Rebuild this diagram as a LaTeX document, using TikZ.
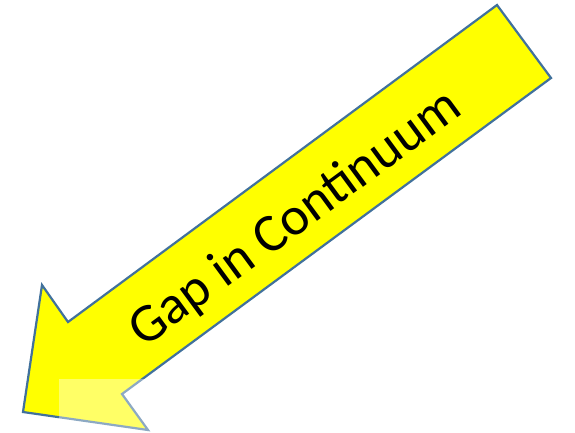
\documentclass[tikz,border=0pt]{standalone}
\usepackage{fontspec}
\newfontfamily\arrowfont{Carlito}
\definecolor{arrowline}{HTML}{41719C}
\definecolor{arrowfill}{HTML}{FFFF00}
\tikzset{
  arrowshape/.style={draw=arrowline, line width=2.2pt, fill=arrowfill, line join=miter},
  arrowlabel/.style={font=\arrowfont\fontsize{54}{64}\selectfont, text=black, rotate=36.3, inner sep=0pt},
  haze/.style={fill=white, fill opacity=0.4}
}
\begin{document}
\begin{tikzpicture}[x=1pt,y=-1pt]
\useasboundingbox (0,0) rectangle (575,432);
\coordinate (tailtop) at (497,5);
\coordinate (tailbot) at (551,78);
\coordinate (innerlow) at (122,394);
\coordinate (barblow) at (148,430);
\coordinate (tip) at (23,412);
\coordinate (barbup) at (42,285);
\coordinate (innerup) at (68,322);
\draw[arrowshape] (tailtop) -- (tailbot) -- (innerlow) -- (barblow) -- (tip) -- (barbup) -- (innerup) -- cycle;
\fill[haze] (59,379) rectangle (160,432);
\node[arrowlabel] (lbl) at (296,219) {Gap in Continuum};
\end{tikzpicture}
\end{document}
